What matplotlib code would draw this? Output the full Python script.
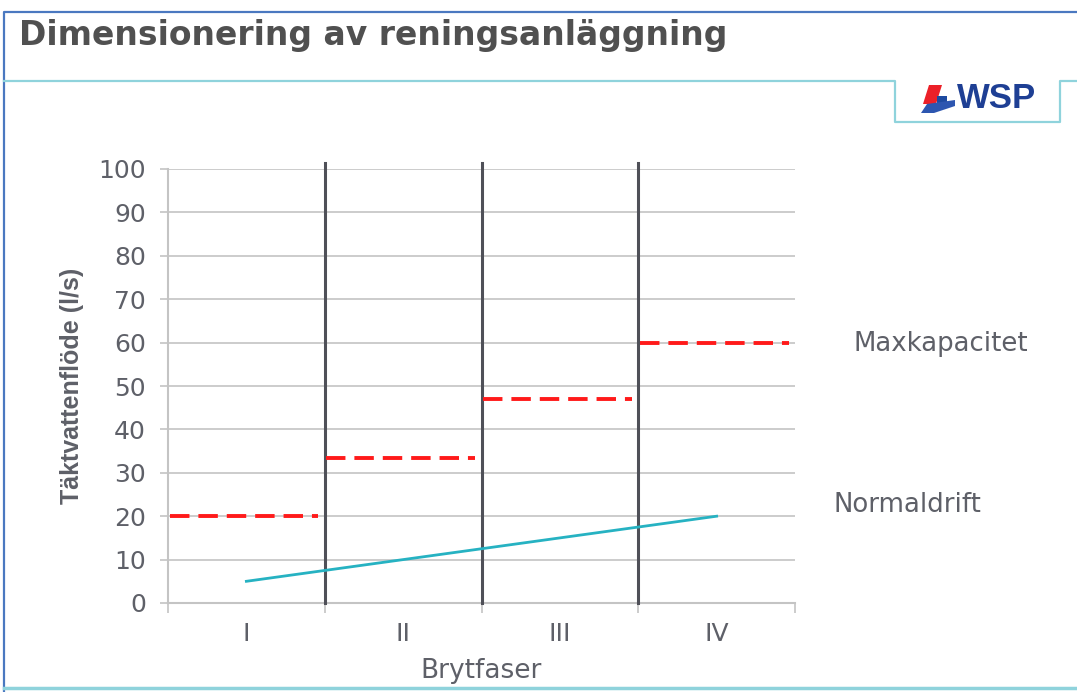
import matplotlib
matplotlib.use("Agg")
import matplotlib.pyplot as plt
from matplotlib.patches import Polygon
from matplotlib.lines import Line2D

# ── Data ─────────────────────────────────────────────────────────────────────
phases = ["I", "II", "III", "IV"]
max_capacity = [20, 33.3, 47, 60]      # Maxkapacitet (l/s) per brytfas
normal_flow = [5, 10, 15, 20]          # Normaldrift (l/s) at phase centres

W, H = 1077, 692
C_TEXT = "#5e6068"
C_GRID = "#c4c4c4"
C_SEP = "#4f5058"
C_RED = "#ff1a1a"
C_TEAL = "#26b2c2"
C_FRAME = "#4a78c0"
C_RULE = "#8fd3dc"


def px(x, y):
    """pixel (from top-left) -> figure fraction"""
    return x / W, 1 - y / H


fig = plt.figure(figsize=(W / 100, H / 100), dpi=100)
fig.patch.set_facecolor("white")

# ── Slide decoration ─────────────────────────────────────────────────────────
def fline(xs, ys, color, lw):
    pts = [px(x, y) for x, y in zip(xs, ys)]
    fig.add_artist(Line2D([p[0] for p in pts], [p[1] for p in pts],
                          color=color, lw=lw, transform=fig.transFigure))


def fpoly(pts, color):
    fig.add_artist(Polygon([px(x, y) for x, y in pts], closed=True,
                           facecolor=color, edgecolor="none",
                           transform=fig.transFigure))


fline([4, 4, 1077], [692, 12, 12], C_FRAME, 1.6)
fline([4, 895, 895, 1060, 1060, 1077], [81, 81, 122, 122, 81, 81], C_RULE, 1.6)
fline([4, 1077], [688, 688], C_RULE, 2.5)

x0, y0 = px(19, 36)
fig.text(x0, y0, "Dimensionering av reningsanläggning", ha="left", va="center",
         fontsize=23.8, fontweight="bold", color="#505050", family="DejaVu Sans")

# WSP logo
fpoly([(929, 85), (942, 85), (936, 104), (923, 104)], "#ec2028")
fpoly([(937, 96), (947, 96), (947, 103), (937, 103)], "#1e4aa0")
fpoly([(921, 113), (927, 104), (955, 100), (955, 106), (934, 113)], "#2d56b0")
lx, ly = px(957, 98)
fig.text(lx, ly, "WSP", ha="left", va="center", fontsize=25, fontweight="bold",
         color="#1e3f94", family="Liberation Sans")

# ── Chart ────────────────────────────────────────────────────────────────────
left, top = px(168, 169)
right, bottom = px(795, 603)
ax = fig.add_axes([left, bottom, right - left, top - bottom])

xs = list(range(1, len(phases) + 1))

ax.set_xlim(0.5, len(phases) + 0.5)
ax.set_ylim(0, 100)
ax.set_yticks(range(0, 101, 10))
ax.set_xticks(xs)
ax.set_xticklabels(phases)
ax.set_xticks([x + 0.5 for x in [0] + xs], minor=True)

ax.grid(axis="y", color=C_GRID, lw=1.2, zorder=0)
for s in ["top", "right"]:
    ax.spines[s].set_visible(False)
for s in ["left", "bottom"]:
    ax.spines[s].set_color(C_GRID)
    ax.spines[s].set_linewidth(1.5)

ax.tick_params(axis="y", length=6, color=C_GRID, width=1.2, labelsize=18,
               labelcolor=C_TEXT, pad=10)
ax.tick_params(axis="x", which="major", length=0, labelsize=18,
               labelcolor=C_TEXT, pad=14)
ax.tick_params(axis="x", which="minor", length=7, color=C_GRID, width=1.2)

# phase separators
for b in xs[:-1]:
    ax.plot([b + 0.5, b + 0.5], [0, 101.3], color=C_SEP, lw=2.2,
            clip_on=False, zorder=3)

# Maxkapacitet (dashed, one level per phase)
for x, v in zip(xs, max_capacity):
    ax.plot([x - 0.49, x + 0.46], [v, v], color=C_RED, lw=2.8,
            dashes=(5, 2.3), zorder=4)

# Normaldrift
ax.plot(xs, normal_flow, color=C_TEAL, lw=2.0, zorder=4)

ax.set_xlabel("Brytfaser", fontsize=19, color=C_TEXT, labelpad=8)
ax.set_ylabel("Täktvattenflöde (l/s)", fontsize=18, fontweight="bold",
              color=C_TEXT, labelpad=10, family="Liberation Sans")

mx, my = px(854, 344)
fig.text(mx, my, "Maxkapacitet", ha="left", va="center", fontsize=18.7, color=C_TEXT)
nx, ny = px(834, 505)
fig.text(nx, ny, "Normaldrift", ha="left", va="center", fontsize=18.7, color=C_TEXT)

fig.savefig("out.png", dpi=100, facecolor="white")
